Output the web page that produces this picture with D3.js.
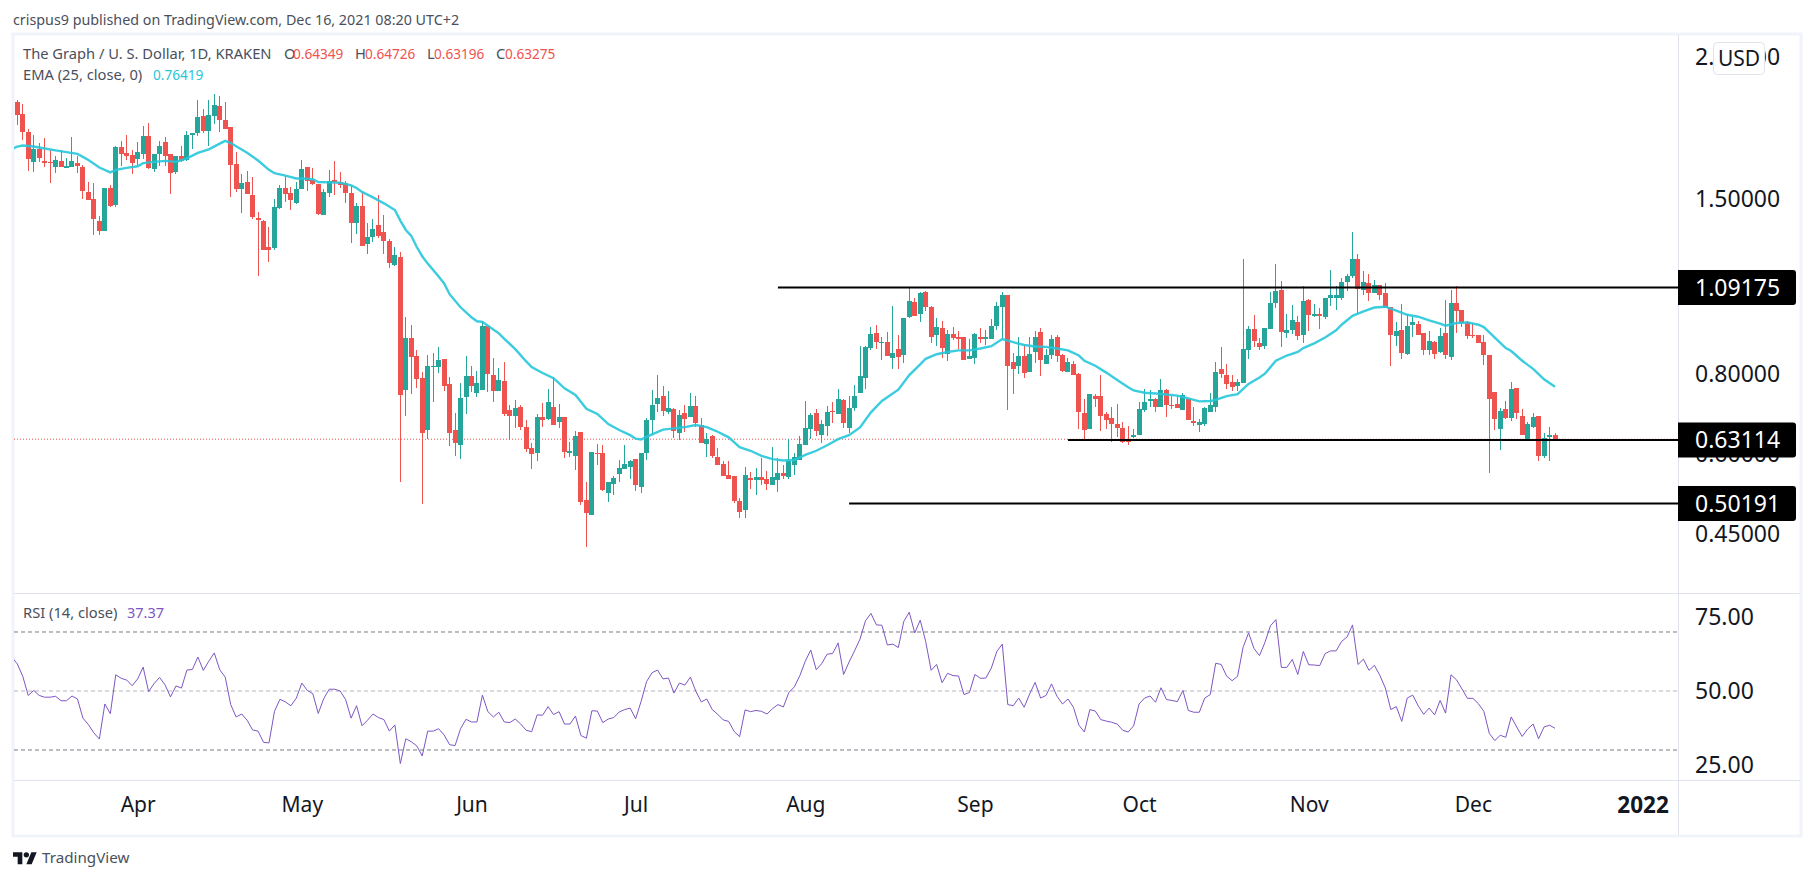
<!DOCTYPE html>
<html>
<head>
<meta charset="utf-8">
<script src="https://cdn.jsdelivr.net/npm/d3@7"></script>
<style>
  body { margin: 0; background: #fff; }
  text { font-family: "Noto Sans", "Open Sans", sans-serif; }
</style>
</head>
<body>
<div id="chart"></div>
<script>
// daily candles from 2021-03-09, one value per day
const firstDay = Date.UTC(2021, 2, 9)
const opens = [1.906,2.127,2.038,1.910,1.716,1.797,1.722,1.716,1.685,1.722,
1.681,1.685,1.710,1.685,1.540,1.501,1.387,1.338,1.561,1.469,
1.809,1.770,1.759,1.733,1.764,1.881,1.673,1.764,1.842,1.764,
1.655,1.753,1.728,1.891,1.905,2.023,1.919,2.023,2.097,1.995,
1.943,1.703,1.556,1.596,1.525,1.402,1.387,1.263,1.259,1.454,
1.561,1.535,1.481,1.556,1.685,1.610,1.582,1.417,1.535,1.608,
1.597,1.592,1.535,1.377,1.464,1.276,1.310,1.367,1.331,1.291,
1.184,1.219,.756,.911,.854,.789,.654,.821,.821,.845,
.771,.654,.620,.737,.795,.748,.756,.951,.797,.753,
.780,.703,.688,.711,.661,.613,.602,.685,.680,.711,
.673,.685,.603,.596,.649,.509,.482,.602,.602,.521,
.539,.558,.569,.573,.589,.533,.603,.678,.718,.738,
.698,.706,.647,.696,.685,.713,.666,.623,.640,.594,
.579,.556,.555,.507,.491,.551,.547,.553,.549,.537,
.547,.561,.553,.577,.587,.620,.656,.696,.642,.663,
.700,.693,.729,.659,.708,.748,.788,.878,.927,.895,
.897,.848,.875,.857,.981,1.036,.993,1.074,1.018,.921,
.945,.860,.925,.914,.914,.845,.848,.914,.907,.907,
.951,1.018,1.063,.836,.824,.854,.807,.866,.931,.830,
.857,.914,.857,.807,.830,.801,.696,.656,.738,.738,
.694,.683,.668,.659,.629,.637,.643,.703,.726,.731,
.711,.756,.716,.718,.703,.731,.676,.666,.668,.698,
.711,.815,.798,.777,.766,.774,.872,.941,.895,.885,
.941,1.032,1.083,.928,.938,.965,.921,1.044,.986,.992,
.982,1.052,1.052,1.052,1.114,1.138,1.210,1.083,1.110,1.071,
1.102,1.071,1.017,.918,.938,.861,.955,.958,.928,.872,
.898,.867,.928,.849,1.032,1.007,.965,.921,.921,.898,
.858,.750,.656,.705,.683,.761,.688,.631,.661,.688,
.596,.638,.64349]
const highs = [2.135,2.144,2.113,1.931,1.891,1.836,1.870,1.791,1.753,1.791,
1.740,1.876,1.753,1.697,1.596,1.591,1.412,1.561,1.577,1.815,
1.851,1.891,1.791,1.842,1.951,1.973,1.764,1.851,1.876,1.764,
1.753,1.815,1.919,1.905,2.144,2.075,2.144,2.190,2.174,2.127,
1.943,1.779,1.645,1.661,1.625,1.432,1.392,1.357,1.501,1.577,
1.633,1.566,1.596,1.728,1.685,1.679,1.587,1.556,1.667,1.723,
1.655,1.603,1.572,1.481,1.540,1.377,1.397,1.523,1.417,1.300,
1.263,1.241,.982,.955,.872,.806,.857,.863,.881,.845,
.792,.695,.775,.854,.824,.809,.968,.951,.848,.818,
.836,.716,.729,.716,.678,.624,.693,.721,.759,.792,
.719,.685,.626,.652,.649,.543,.605,.622,.620,.543,
.555,.587,.620,.587,.589,.603,.683,.756,.797,.767,
.753,.708,.703,.716,.748,.740,.683,.647,.642,.613,
.585,.585,.555,.512,.572,.563,.571,.591,.565,.615,
.591,.577,.633,.603,.640,.726,.696,.706,.678,.713,
.723,.759,.732,.740,.770,.884,.884,.948,.955,.914,
.931,1.020,.921,.978,1.090,1.051,1.074,1.079,1.022,.979,
.969,.938,.948,.935,.914,.907,.928,.945,.938,.975,
1.036,1.074,1.063,.863,.915,.891,.915,.935,.945,.875,
.921,.921,.860,.848,.839,.804,.731,.745,.745,.798,
.698,.711,.718,.673,.663,.656,.724,.758,.756,.734,
.786,.758,.739,.738,.748,.731,.711,.681,.711,.748,
.836,.882,.830,.798,.786,1.210,.952,.989,.911,.945,
1.075,1.187,1.118,.992,1.025,.986,1.099,1.048,1.028,1.013,
1.052,1.163,1.099,1.130,1.146,1.333,1.231,1.159,1.146,1.122,
1.102,1.110,1.017,.965,1.028,.992,.982,.969,.928,.935,
.901,.945,1.044,1.083,1.096,1.007,.969,.962,.921,.921,
.858,.750,.709,.727,.777,.761,.705,.673,.695,.688,
.647,.661,.64726]
const lows = [1.906,1.959,1.857,1.661,1.655,1.716,1.685,1.591,1.650,1.685,
1.679,1.685,1.650,1.501,1.496,1.319,1.319,1.338,1.459,1.459,
1.691,1.728,1.645,1.697,1.733,1.673,1.655,1.691,1.691,1.530,
1.645,1.716,1.722,1.797,1.881,1.905,1.815,1.966,1.910,1.931,
1.512,1.540,1.427,1.530,1.397,1.140,1.250,1.197,1.250,1.449,
1.486,1.443,1.476,1.556,1.545,1.577,1.417,1.417,1.512,1.523,
1.562,1.481,1.281,1.323,1.269,1.233,1.287,1.305,1.233,1.171,
1.180,.543,.688,.745,.761,.502,.633,.724,.803,.753,
.618,.596,.589,.693,.750,.737,.756,.750,.724,.753,
.688,.631,.659,.654,.605,.569,.585,.661,.678,.666,
.659,.592,.594,.567,.500,.430,.482,.577,.525,.505,
.517,.543,.569,.549,.525,.522,.587,.642,.698,.688,
.693,.636,.631,.650,.685,.661,.625,.594,.592,.577,
.555,.549,.503,.477,.477,.529,.518,.537,.527,.537,
.524,.549,.549,.556,.587,.620,.633,.640,.625,.640,
.671,.693,.659,.647,.700,.748,.759,.872,.875,.842,
.854,.815,.815,.833,.978,.984,.965,1.003,.894,.884,
.848,.839,.904,.874,.842,.845,.830,.894,.888,.907,
.938,.907,.703,.745,.801,.789,.807,.833,.795,.830,
.845,.836,.807,.807,.798,.656,.629,.656,.711,.652,
.656,.627,.637,.624,.620,.635,.643,.698,.711,.698,
.711,.686,.706,.708,.703,.678,.663,.649,.663,.698,
.698,.789,.759,.753,.753,.774,.845,.882,.872,.875,
.941,1.013,.882,.911,.924,.904,.895,.935,.982,.941,
.975,1.020,1.007,1.044,1.079,1.130,.996,1.063,1.040,1.071,
1.044,1.013,.823,.885,.845,.858,.914,.921,.858,.858,
.845,.864,.845,.842,.928,.948,.907,.911,.895,.827,
.561,.654,.609,.680,.675,.680,.643,.631,.659,.585,
.592,.585,.63196]
const closes = [2.135,2.031,1.910,1.733,1.797,1.740,1.710,1.712,1.728,1.685,
1.691,1.722,1.691,1.545,1.496,1.397,1.338,1.561,1.464,1.809,
1.764,1.753,1.710,1.779,1.881,1.679,1.764,1.815,1.753,1.650,
1.753,1.722,1.891,1.905,2.016,1.919,2.031,2.105,1.995,1.931,
1.697,1.556,1.591,1.530,1.407,1.392,1.250,1.250,1.459,1.561,
1.530,1.496,1.556,1.673,1.602,1.584,1.422,1.540,1.603,1.597,
1.581,1.535,1.377,1.464,1.269,1.310,1.348,1.315,1.291,1.193,
1.228,.743,.911,.851,.786,.647,.824,.824,.842,.767,
.647,.624,.734,.795,.767,.775,.951,.800,.753,.783,
.693,.688,.708,.661,.611,.600,.685,.678,.724,.666,
.685,.605,.607,.640,.505,.486,.605,.600,.527,.543,
.551,.570,.579,.585,.537,.603,.678,.716,.734,.700,
.708,.651,.690,.680,.713,.671,.625,.633,.596,.577,
.555,.549,.507,.487,.556,.547,.553,.547,.539,.553,
.561,.555,.585,.594,.623,.659,.690,.651,.668,.698,
.698,.732,.671,.708,.740,.793,.881,.924,.897,.897,
.854,.863,.851,.978,1.040,.984,1.070,1.018,.915,.948,
.878,.925,.911,.907,.842,.854,.925,.907,.914,.951,
1.022,1.063,.824,.815,.854,.804,.860,.915,.842,.857,
.907,.854,.809,.836,.798,.698,.654,.745,.731,.689,
.678,.668,.659,.627,.627,.643,.705,.724,.731,.711,
.756,.716,.713,.708,.743,.678,.671,.673,.708,.716,
.807,.801,.772,.763,.776,.875,.941,.901,.882,.945,
1.032,1.079,.931,.938,.972,.918,1.040,.989,.992,.986,
1.052,1.063,1.063,1.114,1.138,1.210,1.087,1.114,1.071,1.102,
1.063,1.013,.921,.935,.864,.952,.965,.921,.872,.901,
.861,.918,.858,1.032,1.003,.962,.918,.918,.895,.858,
.732,.680,.700,.682,.759,.695,.643,.668,.685,.596,
.636,.643,.63275]

// EMA at these day numbers
const emaDays = [0,1,2,4,6,8,10,12,14,16,18,19,21,23,24,26,28,30,32,34,36,38,39,40,41,43,45,47,48,50,52,53,55,
56,58,60,62,63,64,66,68,70,71,72,73,74,75,76,78,79,80,82,84,85,86,87,89,90,92,94,95,97,99,101,103,105,107,109,111,
113,114,115,116,117,119,121,123,125,127,129,131,133,135,137,139,141,143,145,147,149,151,153,155,157,159,162,164,166,
167,169,171,173,175,177,179,181,183,185,187,189,191,193,195,196,198,200,202,204,205,207,209,211,213,215,217,219,
220,222,224,226,228,229,231,233,235,236,238,240,242,243,245,247,249,251,253,255,257,259,261,262,264,266,268,269,271,273,274,276,278,280,282]
const emaValues = [1.797,1.813,1.820,1.813,1.800,1.788,1.777,1.766,1.728,1.681,1.652,1.667,1.679,1.689,1.708,1.716,1.722,1.716,1.738,1.772,1.795,1.832,1.850,1.836,1.815,1.773,1.724,1.667,1.647,1.633,1.616,1.616,1.612,
1.596,1.594,1.592,1.577,1.562,1.540,1.510,1.478,1.443,1.389,1.343,1.315,1.263,1.222,1.190,1.136,1.108,1.066,1.017,.981,.967,.965,.952,.926,.908,.875,.837,.820,.803,.788,.760,.742,.706,.693,.668,.654,
.642,.634,.632,.638,.644,.655,.658,.661,.666,.661,.650,.637,.615,.607,.596,.589,.586,.587,.598,.607,.619,.633,.642,.660,.697,.726,.756,.797,.828,
.845,.859,.866,.871,.871,.877,.884,.907,.897,.888,.883,.882,.877,.871,.855,.839,.824,.804,.783,.763,.754,.748,.746,.743,.740,.733,.725,.726,
.729,.739,.744,.772,.790,.801,.839,.855,.866,.878,.893,.912,.936,.955,.986,1.002,1.016,1.019,1.005,.990,.983,.970,.959,.952,.961,.963,.955,.947,.912,.878,.869,.839,.815,.785,.76419]

const rsiValues = [61.5,59.2,55.0,48.5,50.2,48.5,47.9,47.9,48.2,46.7,46.7,48.3,47.3,40.8,38.6,35.8,33.7,45.6,42.3,55.5,
54.3,53.7,51.8,54.1,58.1,49.8,52.5,54.6,52.1,48.0,51.7,51.0,57.1,57.3,61.5,57.0,60.1,62.9,57.2,54.7,
45.4,41.2,42.2,40.1,36.8,36.4,32.6,32.4,43.1,47.2,46.3,45.0,47.6,52.7,50.2,49.1,42.4,47.4,50.6,50.6,
50.0,47.1,40.8,45.0,38.2,40.1,42.2,41.0,40.3,36.4,38.5,25.4,33.8,32.8,31.4,28.0,36.4,36.4,37.2,35.1,
31.8,31.5,37.2,40.4,39.5,39.5,48.6,43.0,41.2,42.8,39.5,39.3,40.5,38.8,36.7,36.2,41.9,41.8,44.7,42.0,
43.0,38.8,38.8,41.5,34.9,34.0,43.3,43.2,39.3,40.5,41.0,42.9,43.7,44.2,40.6,46.5,53.2,56.2,57.1,54.1,
54.4,49.3,52.7,52.0,54.7,49.9,46.3,47.3,43.7,42.1,40.2,39.7,36.3,34.5,43.6,43.0,43.4,43.1,42.2,44.0,
45.4,44.6,49.5,51.4,55.2,60.1,63.9,57.2,59.3,62.5,62.7,66.3,55.6,59.8,63.6,67.6,73.8,76.3,72.4,72.3,
65.6,65.9,64.7,73.6,76.7,69.7,74.0,66.8,57.0,59.0,52.8,56.0,55.2,55.1,48.8,49.5,55.6,54.3,54.4,57.8,
63.4,65.9,45.4,45.0,47.6,44.5,49.0,52.9,47.6,48.5,52.4,48.2,45.6,47.3,44.5,38.4,36.1,43.7,43.2,40.3,
39.8,39.4,38.8,36.7,36.1,38.2,45.6,47.6,48.3,46.2,51.1,47.1,46.8,46.4,50.2,43.4,42.8,42.8,47.6,48.8,
59.4,59.0,55.0,53.5,55.0,64.8,69.7,64.4,62.0,66.5,72.1,74.2,58.0,58.0,60.7,55.6,63.4,58.9,58.8,58.6,
62.7,63.6,63.6,66.8,68.3,72.4,59.0,60.8,57.0,58.7,55.3,51.0,43.7,44.7,39.7,47.6,48.6,45.0,42.1,44.2,
41.9,46.8,42.5,55.5,53.8,50.7,47.5,47.5,45.7,43.1,35.6,33.2,35.0,34.3,41.2,37.8,34.6,37.1,38.8,33.8,
37.8,38.4,37.37]

const priceTicks = [2.5, 1.5, 0.8, 0.6, 0.45]
const rsiTicks = [75, 50, 25]
const rsiBands = [70, 50, 30]
const monthTicks = [[2021,3],[2021,4],[2021,5],[2021,6],[2021,7],[2021,8],[2021,9],[2021,10],[2021,11],[2022,0]]
const monthNames = ['Apr','May','Jun','Jul','Aug','Sep','Oct','Nov','Dec','2022']
// drawn lines: level, day number where the line begins
const levelValues = [1.09175, 0.63114, 0.50191]
const levelStarts = [140, 193, 153]

const lastClose = 0.63275

const RED = '#ef5350', GREEN = '#26a69a', TEAL = '#26c6da', PURPLE = '#7e57c2'
const INK = '#131722', MUTED = '#4a4f5c', FRAME = '#f0f3fa', RULE = '#e0e3eb'
const WORD_FONT = 14.7, NUM_FONT = 13.6, AXIS_FONT = 23

const paneLeft = 14, axisX = 1678, paneRight = 1800, paneTop = 35, priceBottom = 593, rsiBottom = 780, paneBottom = 835

function dayDate(i) { return new Date(firstDay + i * 864e5) }

const x = d3.scaleUtc().domain([dayDate(0), dayDate(282)]).range([11.8, 1555])
const y = d3.scaleLog().domain([0.3639, 2.708]).range([priceBottom, paneTop])
const yRsi = d3.scaleLinear().domain([19.83, 83.22]).range([rsiBottom, priceBottom])

const svg = d3.select('#chart').append('svg').attr('width', 1813).attr('height', 879).style('display', 'block')

svg.append('defs').append('clipPath').attr('id', 'plot').append('rect')
  .attr('x', paneLeft).attr('y', paneTop).attr('width', axisX - paneLeft).attr('height', priceBottom - paneTop)

// frame and separators
svg.append('rect').attr('x', paneLeft - 1).attr('y', paneTop - 1).attr('width', paneRight - paneLeft + 2).attr('height', paneBottom - paneTop + 2)
  .attr('fill', '#fff').attr('stroke', FRAME).attr('stroke-width', 3)
function rule(x1, y1, x2, y2) {
  svg.append('line').attr('x1', x1).attr('y1', y1).attr('x2', x2).attr('y2', y2).attr('stroke', RULE).attr('stroke-width', 1)
}
rule(axisX + .5, paneTop, axisX + .5, paneBottom)
rule(paneLeft, priceBottom + .5, paneRight, priceBottom + .5)
rule(paneLeft, rsiBottom + .5, paneRight, rsiBottom + .5)

// axes
const timeAxis = svg.append('g').attr('transform', `translate(0,${rsiBottom})`)
  .call(d3.axisBottom(x).tickValues(monthTicks.map(m => new Date(Date.UTC(m[0], m[1], 1))))
    .tickFormat((d, i) => monthNames[i]).tickSize(0).tickPadding(17.5))
timeAxis.select('.domain').remove()
timeAxis.selectAll('text').attr('fill', INK)
  .attr('font-size', (d, i) => monthNames[i] == '2022' ? 22.5 : 21)
  .attr('font-weight', (d, i) => monthNames[i] == '2022' ? 'bold' : 'normal')

const priceAxis = svg.append('g').attr('transform', `translate(${axisX},0)`)
  .call(d3.axisRight(y).tickValues(priceTicks).tickFormat(d3.format('.5f')).tickSize(0).tickPadding(17))
priceAxis.select('.domain').remove()
priceAxis.selectAll('text').attr('font-size', AXIS_FONT).attr('fill', INK)

const rsiAxis = svg.append('g').attr('transform', `translate(${axisX},0)`)
  .call(d3.axisRight(yRsi).tickValues(rsiTicks).tickFormat(d3.format('.2f')).tickSize(0).tickPadding(17))
rsiAxis.select('.domain').remove()
rsiAxis.selectAll('text').attr('font-size', AXIS_FONT).attr('fill', INK)

// candles
const plot = svg.append('g').attr('clip-path', 'url(#plot)')
plot.append('line').attr('x1', paneLeft).attr('x2', axisX).attr('y1', y(lastClose)).attr('y2', y(lastClose))
  .attr('stroke', RED).attr('stroke-width', 1).attr('stroke-dasharray', '1 2')

const candles = plot.append('g').attr('shape-rendering', 'crispEdges')
  .selectAll('g').data(d3.range(opens.length)).enter().append('g')
  .attr('fill', i => closes[i] >= opens[i] ? GREEN : RED)
candles.append('rect')
  .attr('x', i => Math.round(x(dayDate(i)) - .5)).attr('width', 1)
  .attr('y', i => y(highs[i])).attr('height', i => y(lows[i]) - y(highs[i]))
candles.append('rect')
  .attr('x', i => Math.round(x(dayDate(i)) - .5) - 2).attr('width', 5)
  .attr('y', i => y(Math.max(opens[i], closes[i])))
  .attr('height', i => Math.max(1, Math.abs(y(opens[i]) - y(closes[i]))))

// EMA
const emaLine = d3.line().x(i => x(dayDate(emaDays[i]))).y(i => y(emaValues[i]))
plot.append('path').attr('d', emaLine(d3.range(emaDays.length))).attr('fill', 'none')
  .attr('stroke', TEAL).attr('stroke-width', 2.4).attr('stroke-opacity', .9)

// drawn levels and their labels
levelValues.forEach((v, k) => {
  svg.append('line').attr('x1', x(dayDate(levelStarts[k]))).attr('x2', axisX).attr('y1', y(v)).attr('y2', y(v))
    .attr('stroke', '#000').attr('stroke-width', 2)
  svg.append('path')
    .attr('d', `M${axisX} ${y(v) - 17.5}h115a3 3 0 0 1 3 3v29a3 3 0 0 1 -3 3h-115z`).attr('fill', '#000')
  svg.append('text').attr('x', axisX + 17).attr('y', y(v)).attr('dy', '.35em')
    .attr('font-size', AXIS_FONT).attr('fill', '#fff').text(d3.format('.5f')(v))
})

// RSI pane
svg.select('defs').append('clipPath').attr('id', 'rsiClip').append('rect')
  .attr('x', paneLeft).attr('y', priceBottom).attr('width', axisX - paneLeft).attr('height', rsiBottom - priceBottom)
rsiBands.forEach(v => {
  svg.append('line').attr('x1', paneLeft).attr('x2', axisX).attr('y1', yRsi(v)).attr('y2', yRsi(v))
    .attr('stroke', v == 50 ? '#b2b5be' : '#787b86').attr('stroke-width', 1).attr('stroke-dasharray', '4 3')
})
const rsiLine = d3.line().x((d, i) => x(dayDate(i))).y(d => yRsi(d))
svg.append('g').attr('clip-path', 'url(#rsiClip)').append('path').attr('d', rsiLine(rsiValues)).attr('fill', 'none')
  .attr('stroke', PURPLE).attr('stroke-width', 1)

// USD button
svg.append('rect').attr('x', 1713.5).attr('y', 42.5).attr('width', 51).attr('height', 32).attr('rx', 4)
  .attr('fill', '#fff').attr('stroke', RULE)
svg.append('text').attr('x', 1739).attr('y', 58.5).attr('dy', '.35em').attr('text-anchor', 'middle')
  .attr('font-size', 21).attr('fill', INK).text('USD')

// legends and captions
function label(xPos, yPos, txt, color, size) {
  return svg.append('text').attr('x', xPos).attr('y', yPos).attr('dy', '.35em')
    .attr('font-size', size).attr('fill', color).text(txt)
}
label(13, 20, 'crispus9 published on TradingView.com, Dec 16, 2021 08:20 UTC+2', MUTED, 14.3)
label(23, 54, 'The Graph / U. S. Dollar, 1D, KRAKEN', MUTED, WORD_FONT)
label(284, 54, 'O', MUTED, WORD_FONT); label(293, 54, '0.64349', RED, NUM_FONT)
label(355, 54, 'H', MUTED, WORD_FONT); label(365, 54, '0.64726', RED, NUM_FONT)
label(427, 54, 'L', MUTED, WORD_FONT); label(434, 54, '0.63196', RED, NUM_FONT)
label(496, 54, 'C', MUTED, WORD_FONT); label(505, 54, '0.63275', RED, NUM_FONT)
label(23, 75, 'EMA (25, close, 0)', MUTED, WORD_FONT); label(153, 75, '0.76419', TEAL, NUM_FONT)
label(23, 613, 'RSI (14, close)', MUTED, WORD_FONT); label(127, 613, '37.37', PURPLE, 14.5)

const logo = svg.append('g').attr('transform', 'translate(13,849.5) scale(.667)').attr('fill', '#131722')
logo.append('path').attr('d', 'M14 22H7V11H0V4h14v18zM28 22h-8l7.5-18h8L28 22z')
logo.append('circle').attr('cx', 20).attr('cy', 8).attr('r', 4)
label(42, 858, 'TradingView', MUTED, 15.2)
</script>
</body>
</html>
